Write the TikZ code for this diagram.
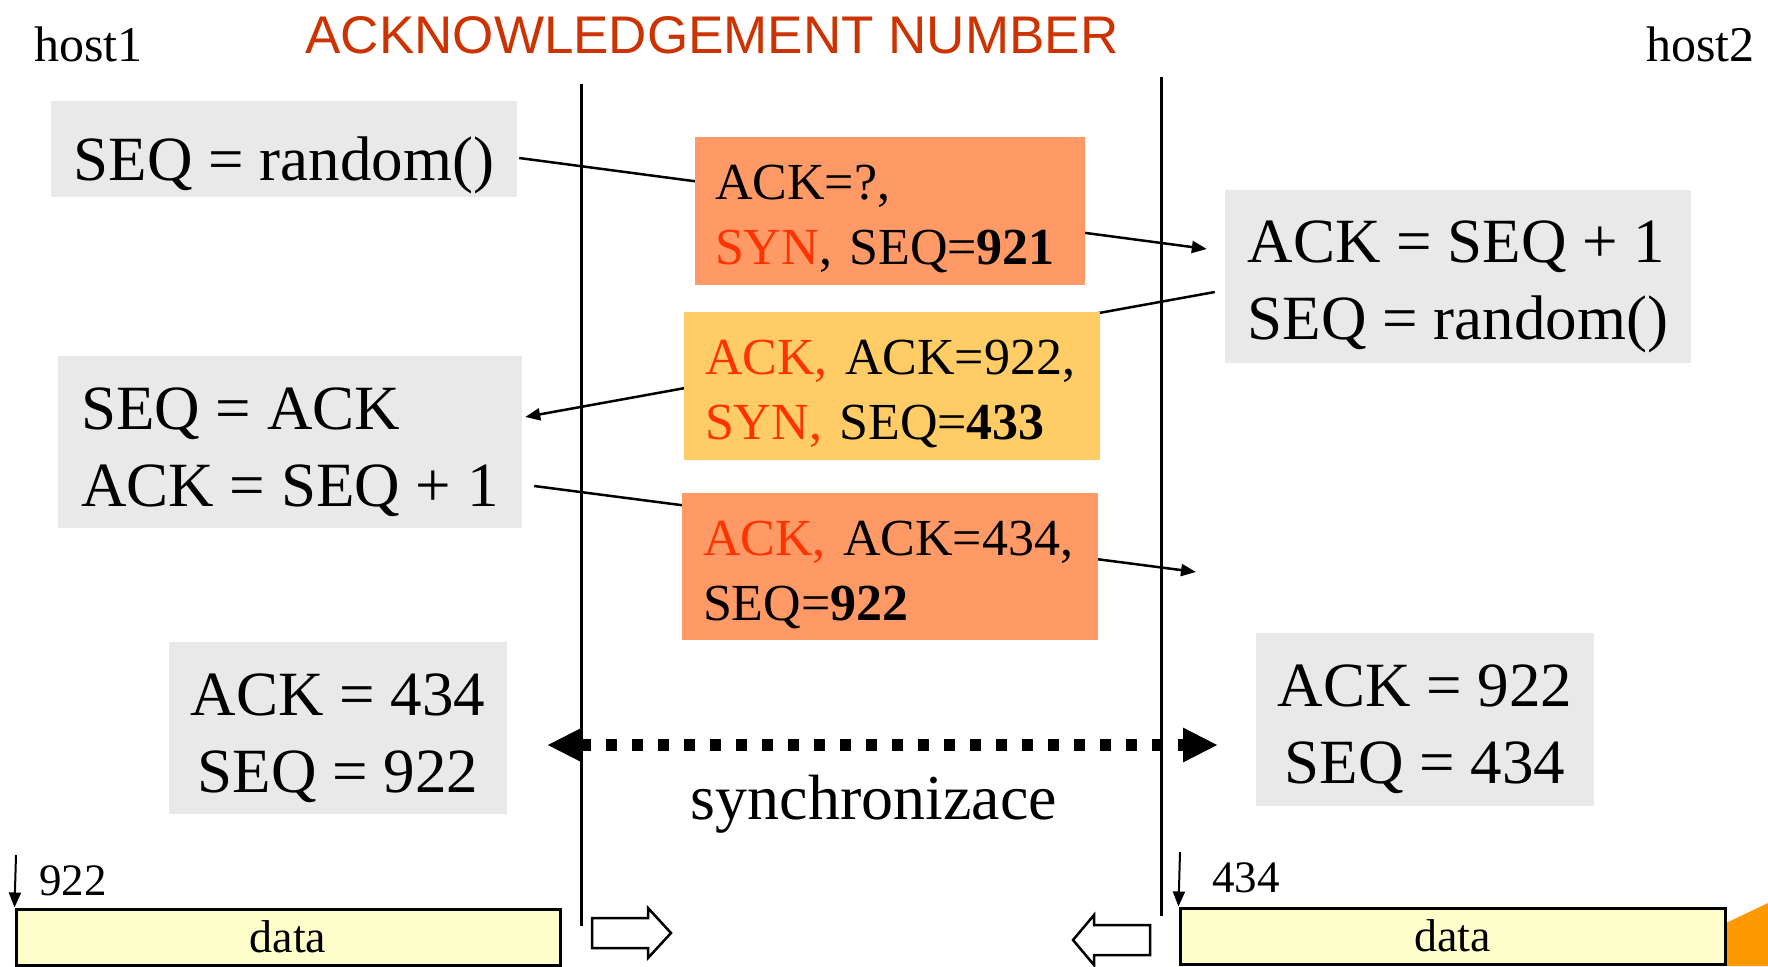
\documentclass[tikz,border=0pt]{standalone}
\usepackage{fontspec}
\setmainfont{Liberation Serif}
\newfontfamily\arialfont{Liberation Sans}
\usetikzlibrary{arrows.meta,calc}
\definecolor{boxgray}{RGB}{233,233,233}
\definecolor{msgorange}{RGB}{255,153,102}
\definecolor{msgyellow}{RGB}{255,204,102}
\definecolor{synred}{RGB}{255,51,0}
\definecolor{titlecol}{RGB}{204,51,0}
\definecolor{barfill}{RGB}{255,255,204}
\definecolor{cornerorange}{RGB}{255,153,0}
\newcommand\fBig{\fontsize{63}{77}\selectfont}
\newcommand\fMsg{\fontsize{52}{65}\selectfont}
\newcommand\fHost{\fontsize{50}{60}\selectfont}
\newcommand\fSmall{\fontsize{45}{54}\selectfont}
\newcommand\fData{\fontsize{46}{55}\selectfont}
\newcommand\fSync{\fontsize{64}{77}\selectfont}
\newcommand\fTitle{\arialfont\fontsize{53}{60}\selectfont}
\newcommand\lift{\rule{0pt}{62pt}}
\frenchspacing
\pgfdeclarelayer{bg}
\pgfsetlayers{bg,main}
\begin{document}
\begin{tikzpicture}[x=1pt,y=-1pt,
  graybox/.style={fill=boxgray, inner sep=0pt, font=\fBig},
  msgbox/.style={inner xsep=20pt, inner ysep=0pt, minimum height=148pt, text width=350pt, align=left, font=\fMsg, execute at begin node={\frenchspacing\rule{0pt}{51pt}}},
  conn/.style={line width=2.5pt, -{Triangle[length=15pt,width=12pt]}},
  lifeline/.style={line width=3pt},
  sync/.style={line width=12pt, dash pattern=on 11pt off 15pt, {Triangle[length=35pt,width=32pt]}-{Triangle[length=35pt,width=32pt]}},
  databar/.style={fill=barfill, draw=black, line width=3pt, inner sep=0pt, font=\fData},
  downarr/.style={line width=2pt, -{Triangle[length=15pt,width=12pt]}},
  blockarr/.style={draw=black, fill=white, line width=2.5pt, line join=miter},
  lbl/.style={inner sep=0pt}
]
\useasboundingbox (0,0) rectangle (1768,966);

% corner decoration
\fill[cornerorange] (1726,923) -- (1768,903) -- (1768,966) -- (1726,966) -- cycle;

% headers
\node[lbl, anchor=base west, font=\fHost] (h1) at (34,62) {host1};
\node[lbl, anchor=base east, font=\fHost] (h2) at (1755,62) {host2};
\node[lbl, anchor=base, font=\fTitle, text=titlecol] (title) at (712,54) {ACKNOWLEDGEMENT NUMBER};

% lifelines
\coordinate (v1t) at (581,84);
\coordinate (v1b) at (581,926);
\coordinate (v2t) at (1161,77);
\coordinate (v2b) at (1161,916);
\draw[lifeline] (v1t) -- (v1b);
\draw[lifeline] (v2t) -- (v2b);

% state boxes
\node[graybox, minimum width=466pt, minimum height=96pt] (b1) at (284,149) {\rule{0pt}{76pt}SEQ = random()};
\node[graybox, minimum width=466pt, minimum height=173pt, align=left] (b5) at (1458,276.5) {\lift ACK = SEQ + 1\\SEQ = random()};
\node[graybox, minimum width=464pt, minimum height=172pt, align=left] (b6) at (290,442) {\lift SEQ = ACK\hspace*{80pt}\\ACK = SEQ + 1};
\node[graybox, minimum width=338pt, minimum height=172pt, align=center] (b7) at (338,728) {\lift ACK = 434\\SEQ = 922};
\node[graybox, minimum width=338pt, minimum height=173pt, align=center] (b8) at (1425,719.5) {\lift ACK = 922\\SEQ = 434};

% message boxes
\node[msgbox, fill=msgorange] (b2) at (890,211) {ACK=?,\\\textcolor{synred}{SYN}, SEQ=\textbf{921}};
\node[msgbox, fill=msgyellow, text width=374pt, inner xsep=21pt] (b3) at (892,386) {\textcolor{synred}{ACK,} ACK=922,\\\textcolor{synred}{SYN,} SEQ=\textbf{433}};
\node[msgbox, fill=msgorange, text width=374pt, inner xsep=21pt, minimum height=147pt] (b4) at (890,566.5) {\textcolor{synred}{ACK,} ACK=434,\\SEQ=\textbf{922}};

% connectors behind the boxes
\coordinate (a3end) at (1196,572);
\begin{pgfonlayer}{bg}
\draw[conn] ($(b1.east)+(2,9)$) -- ($(b5.west)+(-18,-27.5)$);
\draw[conn] ($(b5.west)+(-10,15.5)$) -- ($(b6.east)+(3,-25)$);
\draw[conn] ($(b6.east)+(12,44)$) -- (a3end);
\end{pgfonlayer}

% synchronisation
\coordinate (sL) at (547,745);
\coordinate (sR) at (1218,745);
\draw[sync] (sL) -- (sR);
\node[lbl, anchor=base, font=\fSync] (synclbl) at (874,819) {synchronizace};

% data bars
\node[databar, minimum width=544pt, minimum height=56pt] (barL) at (288,937) {data};
\node[databar, minimum width=545pt, minimum height=56pt] (barR) at (1452.5,936) {data};
\coordinate (dL) at (16,855);
\coordinate (dR) at (1180,852);
\draw[downarr] (dL) -- (barL.north west);
\draw[downarr] (dR) -- (barR.north west);
\node[lbl, anchor=base west, font=\fSmall] (n922) at (39,895) {922};
\node[lbl, anchor=base west, font=\fSmall] (n434) at (1212,892) {434};

% block arrows
\draw[blockarr] (592,918) -- (648,918) -- (648,908) -- (671,933) -- (648,958) -- (648,948) -- (592,948) -- cycle;
\draw[blockarr] (1150,925) -- (1094,925) -- (1094,915) -- (1073,940) -- (1094,965) -- (1094,955) -- (1150,955) -- cycle;
\end{tikzpicture}
\end{document}
